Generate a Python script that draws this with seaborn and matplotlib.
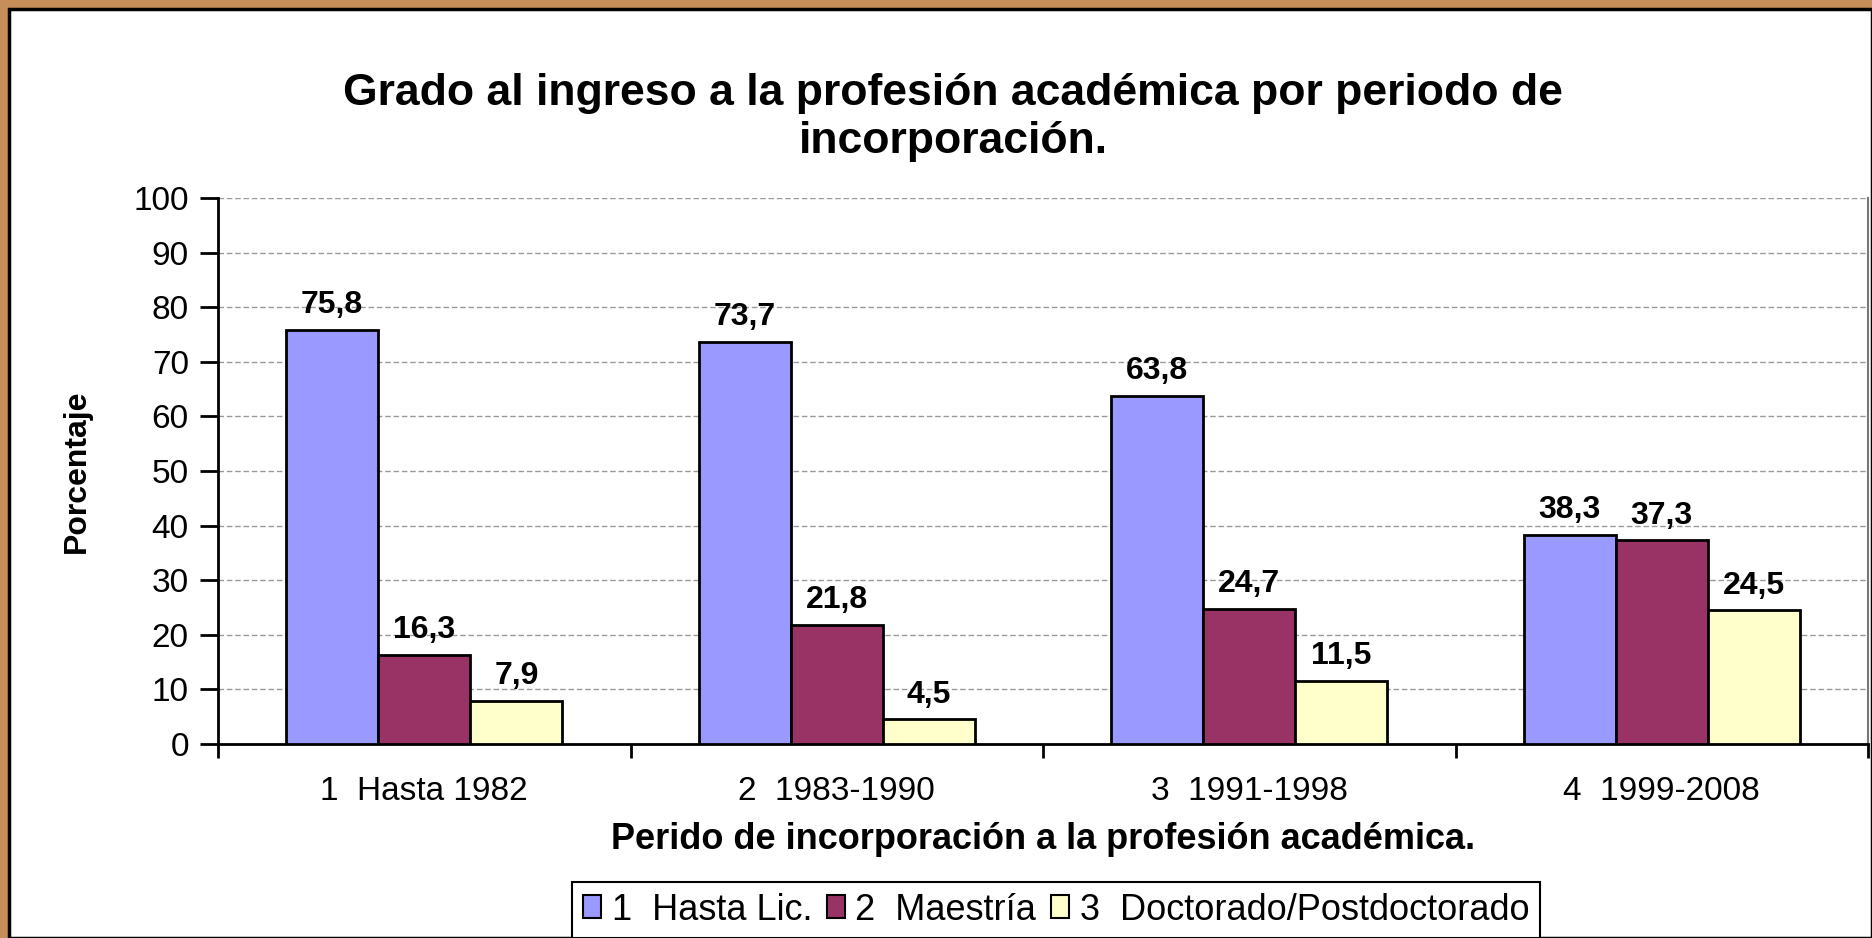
import pandas as pd
import matplotlib
matplotlib.use("Agg")
import matplotlib.pyplot as plt
from matplotlib.patches import Rectangle
from matplotlib.ticker import FixedLocator
import seaborn as sns

periodos = ["1  Hasta 1982", "2  1983-1990", "3  1991-1998", "4  1999-2008"]
grados = ["1  Hasta Lic.", "2  Maestría", "3  Doctorado/Postdoctorado"]
hasta_lic = [75.8, 73.7, 63.8, 38.3]
maestria = [16.3, 21.8, 24.7, 37.3]
doctorado = [7.9, 4.5, 11.5, 24.5]
colores = ["#9999FF", "#993366", "#FFFFCC"]

rows = []
for serie, valores in zip(grados, [hasta_lic, maestria, doctorado]):
    for p, v in zip(periodos, valores):
        rows.append({"periodo": p, "grado": serie, "pct": v})
df = pd.DataFrame(rows)

sns.set_style("white")
plt.rcParams["font.family"] = ["Liberation Sans", "DejaVu Sans"]
for k in ["text.color", "axes.labelcolor", "xtick.color", "ytick.color"]:
    plt.rcParams[k] = "black"

W, H = 1872, 938
fig = plt.figure(figsize=(W / 100, H / 100), dpi=100)
fig.patch.set_facecolor("#C68E58")
fig.patches.append(Rectangle((9 / W, 0), 1 - 9 / W, (H - 9) / H, transform=fig.transFigure,
                             facecolor="white", edgecolor="black", lw=2.5, zorder=-5))

ax = fig.add_axes([218 / W, (H - 744) / H, (1868 - 218) / W, (744 - 198) / H])
ax.set_zorder(1)
ax.set_facecolor("white")

sns.barplot(data=df, x="periodo", y="pct", hue="grado", order=periodos, hue_order=grados,
            palette=colores, width=0.67, edgecolor="black", linewidth=2, saturation=1,
            errorbar=None, ax=ax, zorder=3)

# etiquetas de valor con coma decimal
for cont in ax.containers:
    labels = [f"{v:.1f}".replace(".", ",") for v in cont.datavalues]
    ax.bar_label(cont, labels=labels, padding=7, fontsize=23, fontweight="bold")

ax.set_ylim(0, 100)
ax.set_xlim(-0.5, 3.5)
ax.set_yticks(range(0, 101, 10))
ax.yaxis.grid(True, color="#9a9a9a", linestyle=(0, (4, 2)), lw=1, zorder=0)
ax.set_axisbelow(True)
ax.tick_params(axis="y", length=13, width=2, labelsize=24, pad=8, direction="out", left=True)
ax.tick_params(axis="x", which="major", length=0, labelsize=24, pad=23)
ax.xaxis.set_minor_locator(FixedLocator([-0.5, 0.5, 1.5, 2.5, 3.5]))
ax.tick_params(axis="x", which="minor", length=10, width=2, direction="out", bottom=True)

for s in ["left", "bottom"]:
    ax.spines[s].set_color("black")
    ax.spines[s].set_linewidth(2)
ax.spines["top"].set_visible(False)
ax.spines["right"].set_color("#777777")
ax.spines["right"].set_linewidth(1.5)

ax.set_xlabel("Perido de incorporación a la profesión académica.", fontsize=26,
              fontweight="bold", labelpad=11)
ax.set_ylabel("Porcentaje", fontsize=23, fontweight="bold",
              family=["Liberation Sans Narrow", "Liberation Sans"], labelpad=30)

fig.text(953 / W, 1 - 93 / H, "Grado al ingreso a la profesión académica por periodo de",
         ha="center", va="center", fontsize=32, fontweight="bold")
fig.text(953 / W, 1 - 142 / H, "incorporación.",
         ha="center", va="center", fontsize=32, fontweight="bold")

handles, labels = ax.get_legend_handles_labels()
for h in handles:
    h.set_edgecolor("black")
    h.set_linewidth(1.5)
ax.legend(handles, labels, loc="center", bbox_to_anchor=(1056 / W, 1 - 910 / H),
          bbox_transform=fig.transFigure, ncol=3, fontsize=26, frameon=True,
          fancybox=False, edgecolor="black", framealpha=1, handlelength=0.5,
          handleheight=0.6, handletextpad=0.3, columnspacing=0.4, borderpad=0.3)
ax.get_legend().get_frame().set_linewidth(1.5)

fig.savefig("out.png", dpi=100, facecolor=fig.get_facecolor())
